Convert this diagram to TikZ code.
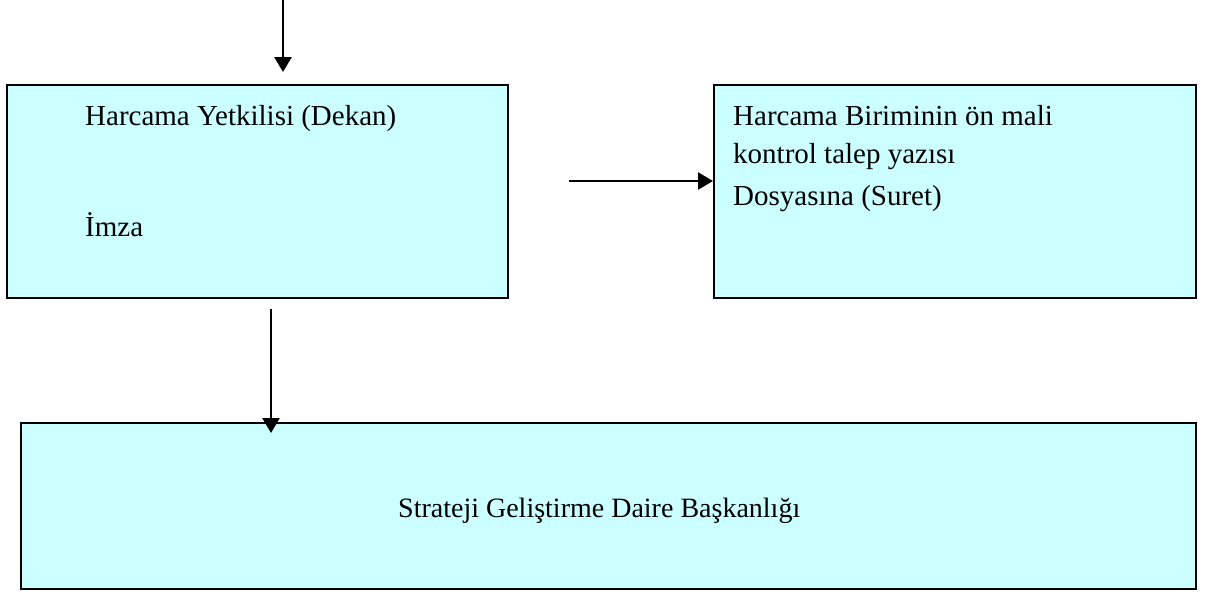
\documentclass[tikz,border=0pt]{standalone}
\usepackage{fontspec}
\setmainfont{Liberation Serif}
\usepackage{tikz}
\usetikzlibrary{arrows.meta}
\definecolor{acikmavi}{HTML}{CCFFFF}
\tikzset{
	kutu/.style={draw=black, fill=acikmavi, line width=1.6pt, anchor=north west, inner sep=0pt},
	yazi/.style={anchor=base west, inner sep=0pt, font=\fontsize{29}{34}\selectfont},
	ok/.style={line width=2.6pt, -{Triangle[length=15pt,width=17pt]}}
}

\begin{document}
\begin{tikzpicture}[x=1pt, y=-1pt]
		%%%%% START %%%%%
		\useasboundingbox (0, 0) rectangle (1206, 595);
		
		\node[kutu, minimum width=501pt, minimum height=213pt] (dekan) at (6, 84) {};
		\node[kutu, minimum width=482pt, minimum height=213pt] (suret) at (713, 84) {};
		\node[kutu, minimum width=1175pt, minimum height=166pt] (sgdb) at (20, 422) {};
		
		\node[yazi] (dekanbaslik) at (85, 125) {Harcama Yetkilisi (Dekan)};
		\node[yazi] (imza) at (85, 236) {İmza};
		
		\node[yazi] (suret1) at (733, 125) {Harcama Biriminin ön mali};
		\node[yazi] (suret2) at (733, 163) {kontrol talep yazısı};
		\node[yazi] (suret3) at (733, 205) {Dosyasına (Suret)};
		
		\node[yazi, font=\fontsize{28}{33}\selectfont] (sgdbyazi) at (398, 517) {Strateji Geliştirme Daire Başkanlığı};
		
		\coordinate (giris) at (283, 0);
		\coordinate (girisuc) at (283, 72);
		\coordinate (sagbas) at (569, 181);
		\coordinate (asagibas) at (271, 309);
		\coordinate (asagiuc) at (271, 433);
		
		\draw[ok] (giris) -- (girisuc);
		\draw[ok] (sagbas) -- (sagbas -| suret.west);
		\draw[ok] (asagibas) -- (asagiuc);
		
		%%%%% END %%%%%
	\end{tikzpicture}
\end{document}
